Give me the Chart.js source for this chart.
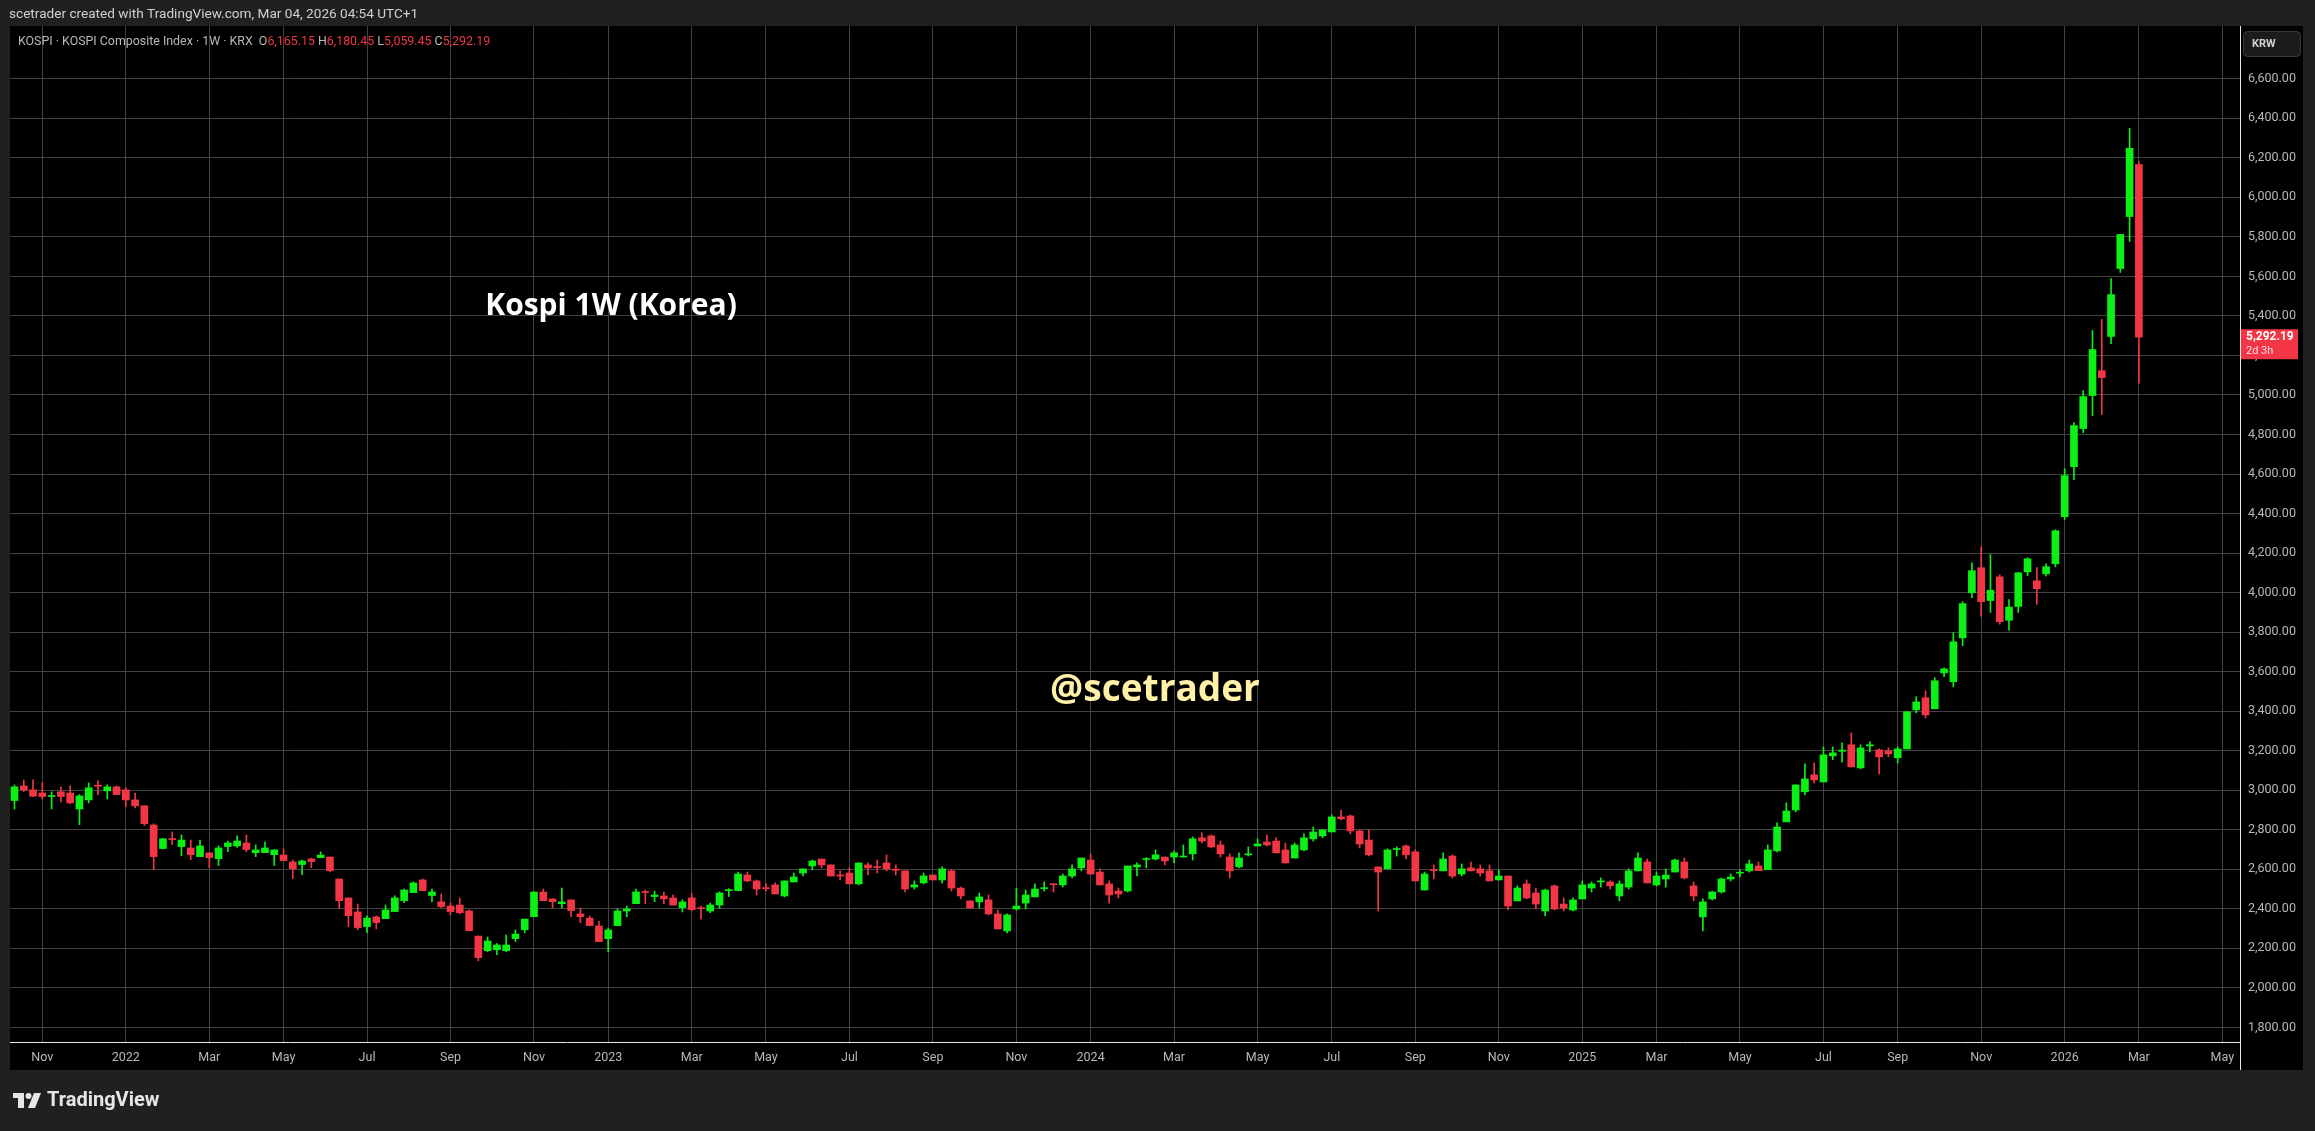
<!DOCTYPE html>
<html>
<head>
<meta charset="utf-8">
<script src="https://cdn.jsdelivr.net/npm/chart.js@4.4.1/dist/chart.umd.min.js"></script>
<style>
  html, body { margin: 0; padding: 0; background: #202020; }
  canvas { display: block; }
</style>
</head>
<body>
<canvas id="grafico" width="2315" height="1131"></canvas>
<script>
// KOSPI semanal, primeira barra = semana de 11/10/2021
const firstWeek = '2021-10-11';

const weekOpen = [
  2948, 3022, 3002, 2986, 2968, 2992, 2986, 2905, 2951, 3024, 2997, 3017, 3002, 2951, 2921, 2824, 2705, 2754, 2715, 2708,
  2664, 2683, 2654, 2715, 2718, 2733, 2684, 2684, 2674, 2672, 2637, 2624, 2652, 2659, 2662, 2551, 2455, 2384, 2310, 2359,
  2350, 2386, 2441, 2482, 2546, 2467, 2435, 2414, 2419, 2389, 2262, 2188, 2193, 2188, 2249, 2294, 2360, 2485, 2450, 2426,
  2445, 2374, 2353, 2313, 2249, 2315, 2389, 2426, 2485, 2462, 2465, 2455, 2406, 2455, 2406, 2389, 2419, 2492, 2492, 2571,
  2541, 2507, 2521, 2465, 2536, 2581, 2617, 2652, 2622, 2571, 2581, 2526, 2622, 2612, 2632, 2600, 2592, 2510, 2531, 2571,
  2546, 2592, 2505, 2440, 2435, 2445, 2374, 2288, 2399, 2429, 2460, 2502, 2526, 2521, 2566, 2607, 2647, 2586, 2526, 2490,
  2490, 2612, 2649, 2652, 2662, 2662, 2662, 2678, 2759, 2769, 2723, 2662, 2612, 2673, 2718, 2738, 2743, 2698, 2657, 2698,
  2754, 2769, 2789, 2865, 2870, 2794, 2748, 2612, 2602, 2700, 2718, 2688, 2495, 2598, 2592, 2667, 2576, 2607, 2602, 2592,
  2546, 2566, 2440, 2526, 2480, 2389, 2516, 2424, 2394, 2450, 2505, 2536, 2536, 2465, 2510, 2592, 2637, 2521, 2551, 2586,
  2637, 2516, 2359, 2450, 2485, 2551, 2580, 2592, 2617, 2598, 2693, 2840, 2900, 2992, 3078, 3042, 3174, 3197, 3230, 3113,
  3224, 3204, 3199, 3164, 3209, 3407, 3468, 3412, 3594, 3549, 3771, 3999, 4126, 3960, 4080, 3860, 3930, 4105, 4060, 4095,
  4146, 4384, 4637, 4830, 4997, 5123, 5296, 5640, 5903, 6165.15
];
const weekHigh = [
  3027, 3052, 3052, 3039, 2992, 3017, 3022, 2978, 3037, 3047, 3027, 3022, 3012, 2986, 2922, 2830, 2756, 2789, 2774, 2748,
  2748, 2683, 2718, 2743, 2769, 2774, 2723, 2738, 2698, 2703, 2647, 2647, 2657, 2688, 2662, 2551, 2455, 2424, 2365, 2364,
  2419, 2465, 2500, 2536, 2551, 2500, 2475, 2429, 2455, 2394, 2262, 2257, 2224, 2267, 2293, 2348, 2485, 2500, 2450, 2505,
  2445, 2404, 2364, 2337, 2303, 2399, 2414, 2500, 2495, 2490, 2485, 2470, 2445, 2478, 2414, 2429, 2485, 2502, 2586, 2586,
  2546, 2526, 2531, 2541, 2581, 2602, 2647, 2652, 2622, 2592, 2607, 2632, 2632, 2647, 2673, 2622, 2592, 2541, 2581, 2571,
  2612, 2597, 2510, 2440, 2480, 2470, 2394, 2374, 2505, 2495, 2526, 2536, 2526, 2576, 2622, 2657, 2678, 2602, 2541, 2505,
  2617, 2632, 2659, 2698, 2662, 2693, 2723, 2764, 2784, 2774, 2743, 2678, 2683, 2713, 2754, 2774, 2759, 2733, 2733, 2779,
  2814, 2799, 2875, 2900, 2875, 2799, 2799, 2612, 2703, 2713, 2723, 2698, 2586, 2622, 2683, 2673, 2627, 2637, 2622, 2622,
  2597, 2566, 2516, 2546, 2505, 2500, 2521, 2455, 2455, 2541, 2536, 2556, 2541, 2541, 2602, 2683, 2652, 2586, 2602, 2652,
  2657, 2536, 2450, 2490, 2556, 2576, 2597, 2647, 2637, 2723, 2835, 2936, 3027, 3133, 3138, 3219, 3219, 3240, 3290, 3230,
  3245, 3209, 3214, 3219, 3397, 3473, 3503, 3569, 3619, 3797, 3954, 4151, 4232, 4192, 4090, 3965, 4102, 4176, 4126, 4146,
  4318, 4627, 4860, 5022, 5326, 5382, 5589, 5812, 6349, 6180.45
];
const weekLow = [
  2905, 2993, 2968, 2956, 2905, 2941, 2932, 2826, 2936, 2978, 2956, 2978, 2916, 2911, 2821, 2598, 2703, 2725, 2669, 2649,
  2664, 2608, 2619, 2689, 2710, 2689, 2664, 2684, 2619, 2644, 2553, 2573, 2608, 2659, 2588, 2401, 2310, 2294, 2279, 2299,
  2350, 2386, 2431, 2482, 2492, 2436, 2406, 2369, 2374, 2289, 2137, 2183, 2168, 2183, 2234, 2279, 2360, 2441, 2404, 2404,
  2360, 2330, 2315, 2234, 2183, 2315, 2360, 2426, 2426, 2436, 2426, 2419, 2384, 2391, 2348, 2380, 2401, 2462, 2492, 2537,
  2470, 2490, 2475, 2460, 2536, 2566, 2597, 2607, 2566, 2546, 2526, 2521, 2571, 2581, 2592, 2571, 2485, 2500, 2526, 2546,
  2531, 2490, 2450, 2404, 2404, 2369, 2298, 2278, 2394, 2399, 2460, 2490, 2485, 2510, 2556, 2592, 2576, 2521, 2429, 2455,
  2485, 2566, 2607, 2647, 2622, 2632, 2662, 2647, 2733, 2708, 2662, 2556, 2607, 2667, 2718, 2718, 2683, 2632, 2657, 2693,
  2743, 2759, 2789, 2850, 2779, 2708, 2667, 2389, 2602, 2667, 2652, 2541, 2495, 2551, 2592, 2556, 2566, 2592, 2566, 2541,
  2546, 2394, 2440, 2450, 2399, 2364, 2394, 2389, 2389, 2450, 2485, 2510, 2500, 2440, 2500, 2592, 2531, 2516, 2510, 2586,
  2551, 2440, 2288, 2445, 2480, 2541, 2561, 2586, 2593, 2598, 2688, 2840, 2890, 2976, 3037, 3042, 3154, 3143, 3118, 3108,
  3194, 3083, 3169, 3138, 3209, 3392, 3366, 3412, 3574, 3523, 3731, 3974, 3880, 3900, 3840, 3810, 3900, 4085, 3940, 4085,
  4130, 4370, 4571, 4809, 4895, 4901, 5260, 5620, 5777, 5059.45
];
const weekClose = [
  3017, 3002, 2970, 2968, 2973, 2968, 2936, 2971, 3012, 3020, 3017, 2978, 2951, 2921, 2831, 2664, 2754, 2750, 2748, 2674,
  2718, 2659, 2708, 2733, 2743, 2700, 2698, 2708, 2698, 2644, 2602, 2642, 2639, 2672, 2593, 2441, 2365, 2305, 2353, 2330,
  2394, 2455, 2495, 2531, 2492, 2485, 2411, 2386, 2380, 2289, 2153, 2237, 2217, 2217, 2272, 2348, 2485, 2441, 2436, 2435,
  2391, 2360, 2315, 2234, 2293, 2389, 2399, 2485, 2482, 2470, 2451, 2419, 2435, 2396, 2401, 2419, 2480, 2497, 2576, 2541,
  2500, 2502, 2475, 2541, 2561, 2602, 2642, 2622, 2566, 2566, 2526, 2632, 2607, 2608, 2602, 2595, 2500, 2521, 2566, 2546,
  2602, 2505, 2465, 2404, 2460, 2374, 2298, 2369, 2414, 2470, 2500, 2505, 2522, 2566, 2602, 2657, 2576, 2521, 2470, 2475,
  2617, 2622, 2654, 2673, 2642, 2683, 2667, 2754, 2743, 2713, 2678, 2592, 2657, 2678, 2728, 2723, 2683, 2632, 2723, 2759,
  2789, 2799, 2865, 2855, 2794, 2728, 2673, 2586, 2698, 2705, 2673, 2541, 2576, 2593, 2652, 2566, 2602, 2592, 2581, 2541,
  2566, 2414, 2505, 2455, 2424, 2495, 2399, 2404, 2445, 2521, 2526, 2541, 2516, 2526, 2592, 2657, 2531, 2566, 2571, 2647,
  2556, 2465, 2435, 2485, 2551, 2561, 2583, 2627, 2593, 2698, 2814, 2895, 3027, 3057, 3052, 3179, 3189, 3203, 3118, 3214,
  3230, 3169, 3184, 3209, 3397, 3447, 3381, 3554, 3614, 3751, 3944, 4111, 3954, 4012, 3853, 3927, 4100, 4171, 4020, 4131,
  4313, 4592, 4845, 4992, 5230, 5088, 5508, 5812, 6248, 5292.19
];

// eixos
const priceTicks = [1800, 2000, 2200, 2400, 2600, 2800, 3000, 3200, 3400, 3600, 3800, 4000, 4200,
  4400, 4600, 4800, 5000, 5200, 5400, 5600, 5800, 6000, 6200, 6400, 6600];
const monthTickIdx = [3, 12, 21, 29, 38, 47, 56, 64, 73, 81, 90, 99, 108, 116, 125, 134, 142, 151,
  160, 169, 177, 186, 195, 203, 212, 221, 229, 238];
const monthTickLabels = ['Nov', '2022', 'Mar', 'May', 'Jul', 'Sep', 'Nov', '2023', 'Mar', 'May', 'Jul', 'Sep',
  'Nov', '2024', 'Mar', 'May', 'Jul', 'Sep', 'Nov', '2025', 'Mar', 'May', 'Jul', 'Sep', 'Nov', '2026', 'Mar', 'May'];

const GREEN = '#0cf016';
const RED = '#f23645';
const GRID = '#434343';
const AXIS_TXT = '#b8b8b8';
const FONT = 'Roboto, "Liberation Sans", sans-serif';

const colors = weekClose.map((c, i) => c >= weekOpen[i] ? GREEN : RED);
const wicks = weekHigh.map((h, i) => ({ x: i, y: [weekLow[i], h] }));
const bodies = weekOpen.map((o, i) => ({ x: i, y: [o, weekClose[i]] }));

const fmt = v => v.toLocaleString('en-US', { minimumFractionDigits: 2, maximumFractionDigits: 2 });

// moldura estilo TradingView + textos
const frame = {
  id: 'frame',
  beforeDraw(chart) {
    const ctx = chart.ctx;
    ctx.save();
    ctx.fillStyle = '#202020';
    ctx.fillRect(0, 0, chart.width, chart.height);
    ctx.fillStyle = '#000000';
    ctx.fillRect(10, 26, 2293, 1044);
    ctx.restore();
  },
  afterDraw(chart) {
    const ctx = chart.ctx;
    const area = chart.chartArea;
    const y = chart.scales.y;
    ctx.save();

    // separadores
    ctx.strokeStyle = '#e8e8e8';
    ctx.lineWidth = 1;
    ctx.beginPath();
    ctx.moveTo(area.right + 0.5, 26);
    ctx.lineTo(area.right + 0.5, 1070);
    ctx.moveTo(10, area.bottom + 0.5);
    ctx.lineTo(area.right, area.bottom + 0.5);
    ctx.stroke();

    // cabeçalho
    ctx.textBaseline = 'middle';
    ctx.textAlign = 'left';
    ctx.font = '13.6px ' + FONT;
    ctx.fillStyle = '#d0d0d0';
    ctx.fillText('scetrader created with TradingView.com, Mar 04, 2026 04:54 UTC+1', 9, 15);

    // legenda OHLC
    ctx.font = '12.4px ' + FONT;
    let lx = 18;
    const last = weekClose.length - 1;
    const parts = [
      ['KOSPI · KOSPI Composite Index · 1W · KRX  ', AXIS_TXT],
      ['O', AXIS_TXT], [fmt(weekOpen[last]) + ' ', RED],
      ['H', AXIS_TXT], [fmt(weekHigh[last]) + ' ', RED],
      ['L', AXIS_TXT], [fmt(weekLow[last]) + ' ', RED],
      ['C', AXIS_TXT], [fmt(weekClose[last]), RED]
    ];
    parts.forEach(([t, c]) => {
      ctx.fillStyle = c;
      ctx.fillText(t, lx, 42);
      lx += ctx.measureText(t).width;
    });

    // anotações
    ctx.textAlign = 'center';
    ctx.fillStyle = '#ffffff';
    ctx.font = 'bold 30px "Open Sans", sans-serif';
    ctx.fillText('Kospi 1W (Korea)', 611, 306);
    ctx.fillStyle = '#fff1a8';
    ctx.font = 'bold 37px "Open Sans", sans-serif';
    ctx.fillText('@scetrader', 1155, 690);

    // etiqueta do último preço
    const py = y.getPixelForValue(weekClose[last]);
    ctx.fillStyle = RED;
    ctx.fillRect(area.right + 1, py - 8, 57, 30);
    ctx.textAlign = 'left';
    ctx.fillStyle = '#ffffff';
    ctx.font = 'bold 12px ' + FONT;
    ctx.fillText(fmt(weekClose[last]), area.right + 6, py);
    ctx.font = '11px ' + FONT;
    ctx.fillStyle = 'rgba(255,255,255,0.85)';
    ctx.fillText('2d 3h', area.right + 6, py + 14);

    // botão KRW
    ctx.fillStyle = '#1c1c1c';
    ctx.strokeStyle = '#3a3a3a';
    ctx.beginPath();
    ctx.roundRect(2243.5, 31.5, 57, 25, 4);
    ctx.fill();
    ctx.stroke();
    ctx.fillStyle = '#d0d0d0';
    ctx.font = 'bold 11px ' + FONT;
    ctx.fillText('KRW', 2252, 44);

    // logo TradingView
    ctx.fillStyle = '#e6e6e6';
    ctx.fillRect(13, 1093, 11, 5);
    ctx.fillRect(18, 1093, 6, 15);
    ctx.beginPath();
    ctx.arc(28.5, 1096, 3, 0, Math.PI * 2);
    ctx.fill();
    ctx.beginPath();
    ctx.moveTo(34, 1093);
    ctx.lineTo(41, 1093);
    ctx.lineTo(35, 1108);
    ctx.lineTo(28, 1108);
    ctx.closePath();
    ctx.fill();
    ctx.font = 'bold 20px ' + FONT;
    ctx.fillText('TradingView', 47, 1101);

    ctx.restore();
  }
};

const ctx = document.getElementById('grafico').getContext('2d');
new Chart(ctx, {
  type: 'bar',
  data: {
    datasets: [
      { data: wicks, backgroundColor: colors, barThickness: 1, grouped: false, order: 2 },
      { data: bodies, backgroundColor: colors, barThickness: 7, grouped: false, minBarLength: 1, order: 1 }
    ]
  },
  options: {
    responsive: false,
    animation: false,
    devicePixelRatio: 1,
    layout: { padding: { left: 10, top: 26, right: 12, bottom: 61 } },
    plugins: { legend: { display: false }, tooltip: { enabled: false } },
    scales: {
      x: {
        type: 'linear',
        min: -0.485,
        max: 239.9,
        offset: false,
        grid: { color: GRID, drawTicks: false, offset: false },
        border: { display: false },
        afterBuildTicks: s => { s.ticks = monthTickIdx.map(v => ({ value: v })); },
        afterFit: s => { s.height = 28; },
        ticks: {
          autoSkip: false, maxRotation: 0, padding: 8, color: AXIS_TXT,
          font: { family: FONT, size: 12.5 },
          callback: (v, i) => monthTickLabels[i]
        }
      },
      y: {
        position: 'right',
        min: 1726,
        max: 6867,
        grid: { color: GRID, drawTicks: false },
        border: { display: false },
        afterBuildTicks: s => { s.ticks = priceTicks.map(v => ({ value: v })); },
        afterFit: s => { s.width = 63; },
        ticks: {
          padding: 8, color: AXIS_TXT,
          font: { family: FONT, size: 12.5 },
          callback: v => fmt(v)
        }
      }
    }
  },
  plugins: [frame]
});
</script>
</body>
</html>
